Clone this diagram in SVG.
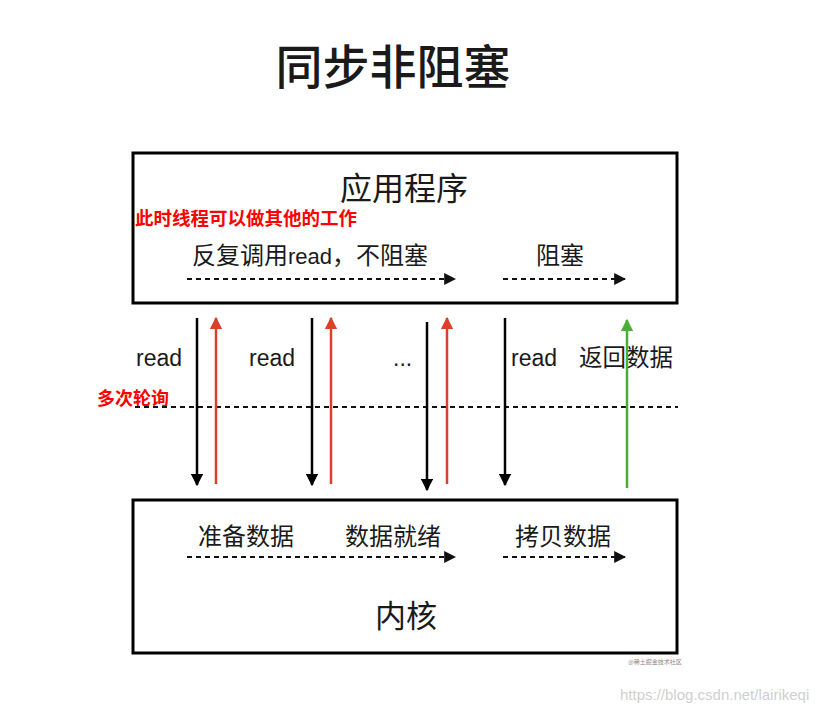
<svg xmlns="http://www.w3.org/2000/svg" width="829" height="715" viewBox="0 0 829 715">
<defs>
<style>
.cn{font-family:"Noto Sans CJK SC","Liberation Sans",sans-serif;fill:#1a1a1a}
.lat{font-family:"Liberation Sans","Noto Sans CJK SC",sans-serif;fill:#1a1a1a}
.red{font-family:"Noto Sans CJK SC",sans-serif;fill:#ff0000;font-weight:bold}
.box{fill:#fff;stroke:#000;stroke-width:3}
.dash{stroke:#111;stroke-width:2;stroke-dasharray:5 4;fill:none}
.ab{stroke:#000;stroke-width:2.5}
.ar{stroke:#d9412b;stroke-width:2.5}
.ag{stroke:#4aad35;stroke-width:2.5}
</style>
<marker id="mb" viewBox="0 0 10 10" refX="9" refY="5" markerWidth="5" markerHeight="5" markerUnits="strokeWidth" orient="auto"><path d="M0,0 L10,5 L0,10 z" fill="#000"/></marker>
<marker id="mr" viewBox="0 0 10 10" refX="9" refY="5" markerWidth="5" markerHeight="5" markerUnits="strokeWidth" orient="auto"><path d="M0,0 L10,5 L0,10 z" fill="#d9412b"/></marker>
<marker id="mg" viewBox="0 0 10 10" refX="9" refY="5" markerWidth="5" markerHeight="5" markerUnits="strokeWidth" orient="auto"><path d="M0,0 L10,5 L0,10 z" fill="#4aad35"/></marker>
<marker id="md" viewBox="0 0 10 10" refX="9" refY="5" markerWidth="6" markerHeight="6" markerUnits="strokeWidth" orient="auto"><path d="M0,0 L10,5 L0,10 z" fill="#111"/></marker>
</defs>
<rect width="829" height="715" fill="#fff"/>
<text class="cn" x="393" y="84" font-size="47" font-weight="500" text-anchor="middle">同步非阻塞</text>

<g id="app">
<rect class="box" x="133" y="153" width="544" height="150"/>
<text class="cn" x="404" y="200" font-size="32" text-anchor="middle">应用程序</text>
<text class="cn" x="192" y="264" font-size="24">反复调用<tspan font-family="Liberation Sans,sans-serif" font-size="22">read</tspan>，不阻塞</text>
<text class="cn" x="560" y="264" font-size="24" text-anchor="middle">阻塞</text>
<line class="dash" x1="187" y1="279" x2="455" y2="279" marker-end="url(#md)"/>
<line class="dash" x1="503" y1="279" x2="625" y2="279" marker-end="url(#md)"/>
</g>

<g id="kernel">
<rect class="box" x="133" y="500" width="544" height="153"/>
<text class="cn" x="198" y="545" font-size="24">准备数据</text>
<text class="cn" x="345" y="545" font-size="24">数据就绪</text>
<text class="cn" x="515" y="545" font-size="24">拷贝数据</text>
<line class="dash" x1="187" y1="557" x2="455" y2="557" marker-end="url(#md)"/>
<line class="dash" x1="503" y1="557" x2="625" y2="557" marker-end="url(#md)"/>
<text class="cn" x="406" y="627" font-size="31" text-anchor="middle">内核</text>
</g>

<g id="notes">
<text class="red" x="135" y="225" font-size="18.5">此时线程可以做其他的工作</text>
<text class="red" x="97" y="405" font-size="18">多次轮询</text>
<text class="lat" x="136" y="366" font-size="23">read</text>
<text class="lat" x="249" y="366" font-size="23">read</text>
<text class="lat" x="393" y="366" font-size="23">...</text>
<text class="lat" x="511" y="366" font-size="23">read</text>
<text class="cn" x="579" y="366" font-size="23.5">返回数据</text>
</g>

<g id="connectors">
<line x1="135" y1="407" x2="678" y2="407" stroke="#111" stroke-width="1.8" stroke-dasharray="5 4"/>
<line class="ab" x1="197" y1="318" x2="197" y2="485" marker-end="url(#mb)"/>
<line class="ar" x1="216" y1="484" x2="216" y2="318" marker-end="url(#mr)"/>
<line class="ab" x1="312" y1="318" x2="312" y2="485" marker-end="url(#mb)"/>
<line class="ar" x1="331" y1="484" x2="331" y2="318" marker-end="url(#mr)"/>
<line class="ab" x1="427" y1="322" x2="427" y2="490" marker-end="url(#mb)"/>
<line class="ar" x1="447" y1="484" x2="447" y2="318" marker-end="url(#mr)"/>
<line class="ab" x1="505" y1="318" x2="505" y2="485" marker-end="url(#mb)"/>
<line class="ag" x1="627" y1="488" x2="627" y2="320" marker-end="url(#mg)"/>
</g>

<text x="655" y="664" font-family="Noto Sans CJK SC,sans-serif" font-size="6" fill="#888" text-anchor="middle">@稀土掘金技术社区</text>
<text x="620" y="700" font-family="Liberation Sans,sans-serif" font-size="15" fill="#d0d0d0">https://blog.csdn.net/lairikeqi</text>
</svg>
